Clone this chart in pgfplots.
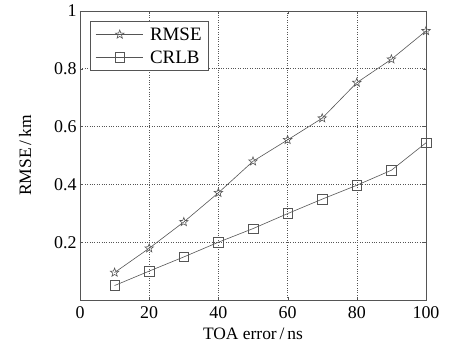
\documentclass[border=0pt]{standalone}
\usepackage{fontspec}
\setmainfont{Liberation Serif}
\usepackage{pgfplots}
\pgfplotsset{compat=1.18}
\pgfdeclareplotmark{ostar}{%
  \pgfpathmoveto{\pgfqpointpolar{90}{\pgfplotmarksize}}%
  \pgfpathlineto{\pgfqpointpolar{126}{0.42\pgfplotmarksize}}%
  \pgfpathlineto{\pgfqpointpolar{162}{\pgfplotmarksize}}%
  \pgfpathlineto{\pgfqpointpolar{198}{0.42\pgfplotmarksize}}%
  \pgfpathlineto{\pgfqpointpolar{234}{\pgfplotmarksize}}%
  \pgfpathlineto{\pgfqpointpolar{270}{0.42\pgfplotmarksize}}%
  \pgfpathlineto{\pgfqpointpolar{306}{\pgfplotmarksize}}%
  \pgfpathlineto{\pgfqpointpolar{342}{0.42\pgfplotmarksize}}%
  \pgfpathlineto{\pgfqpointpolar{18}{\pgfplotmarksize}}%
  \pgfpathlineto{\pgfqpointpolar{54}{0.42\pgfplotmarksize}}%
  \pgfpathclose
  \pgfusepathqstroke
}
\begin{document}
\begin{tikzpicture}
\definecolor{ln}{RGB}{85,85,85}
\begin{axis}[
  name=ax,
  scale only axis,
  width=346bp, height=289bp,
  xmin=0, xmax=100, ymin=0, ymax=1,
  xtick={0,20,40,60,80,100},
  ytick={0.2,0.4,0.6,0.8,1},
  yticklabels={0.2,0.4,0.6,0.8,1},
  /pgf/number format/assume math mode=true,
  ticklabel style={font=\fontsize{18}{20}\selectfont},
  xticklabel style={yshift=-3bp},
  label style={font=\fontsize{17.5}{20}\selectfont},
  xlabel={TOA error\,/\,ns},
  ylabel={RMSE\,/\,km},
  xlabel style={yshift=-2bp},
  ylabel style={yshift=16bp},
  axis line style={draw=ln, line width=0.8pt},
  tick align=inside,
  major tick length=3bp,
  tick style={draw=ln},
  grid=major,
  grid style={dotted, draw=ln, line width=0.6pt},
  legend style={at={(0.029,0.965)}, anchor=north west, draw=ln, line width=0.8pt,
    font=\fontsize{19}{21}\selectfont, row sep=5bp, inner xsep=5bp, inner ysep=4bp},
  legend cell align=left,
  legend image code/.code={\draw[#1] (0bp,0bp) -- (47bp,0bp); \draw[#1, only marks] plot coordinates {(24bp,0bp)}; \path (52bp,0bp);},
]
\addplot[ln, line width=0.6pt, mark=ostar, mark size=4.5bp, mark options={solid}]
  coordinates {(10,0.095) (20,0.179) (30,0.270) (40,0.371) (50,0.480) (60,0.554) (70,0.629) (80,0.752) (90,0.833) (100,0.931)};
\addlegendentry{RMSE}
\addplot[ln, line width=0.6pt, mark=square, mark size=4.8bp, mark options={solid}]
  coordinates {(10,0.050) (20,0.100) (30,0.149) (40,0.200) (50,0.247) (60,0.299) (70,0.349) (80,0.397) (90,0.449) (100,0.544)};
\addlegendentry{CRLB}
\end{axis}
\pgfresetboundingbox
\path[use as bounding box] ([xshift=-80bp,yshift=-52bp]ax.south west) rectangle ([xshift=23bp,yshift=11bp]ax.north east);
\end{tikzpicture}
\end{document}
